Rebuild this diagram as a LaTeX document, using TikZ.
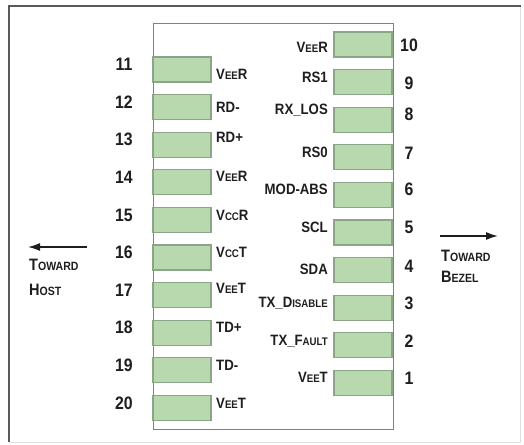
\documentclass[tikz,border=0pt]{standalone}
\usepackage{fontspec}
\setmainfont{Liberation Sans}
\newfontfamily\nb{Liberation Sans}[FakeStretch=0.88]
\usetikzlibrary{arrows.meta}
\definecolor{padfill}{RGB}{184,216,174}
\definecolor{paddraw}{RGB}{140,165,135}
\definecolor{txt}{RGB}{30,30,30}
\newcommand\lc[1]{{\fontsize{11}{11}\selectfont #1}}
\newcommand\lcb[1]{{\fontsize{12}{12}\selectfont #1}}
\tikzset{
  pad/.style={draw=paddraw, fill=padfill, line width=1.2pt, minimum width=58pt, minimum height=25pt, inner sep=0pt},
  pinnum/.style={font=\nb\bfseries\fontsize{18}{18}\selectfont, text=txt, inner sep=0pt},
  lbl/.style={font=\nb\bfseries\fontsize{15}{15}\selectfont, text=txt, inner sep=0pt},
  dirtxt/.style={font=\nb\bfseries\fontsize{16.5}{16.5}\selectfont, text=txt, inner sep=0pt, anchor=west},
  dirarrow/.style={line width=1.5pt, draw=txt, -{Latex[length=12pt,width=8pt]}}
}
\begin{document}
\begin{tikzpicture}[x=1pt,y=-1pt]
\useasboundingbox (0,0) rectangle (524,444);
\fill[white] (0,0) rectangle (524,444);
% outer frame
\draw[gray!25, line width=0.8pt] (520,6) -- (520,442) -- (9,442);
\draw[gray!70!black, line width=2.8pt] (9,442) -- (9,6) -- (521,6);
% body
\node[draw=gray, line width=0.9pt, minimum width=240pt, minimum height=406pt, inner sep=0pt, anchor=north west] (body) at (153,23) {};
% left pads 11..20
\foreach \i/\lab/\ly [count=\k from 0] in {11/V\lc{EE}R/74, 12/RD-/107, 13/RD+/137, 14/V\lc{EE}R/176, 15/V\lc{CC}R/215, 16/V\lc{CC}T/252, 17/V\lc{EE}T/288, 18/TD+/327, 19/TD-/365, 20/V\lc{EE}T/403}{
  \node[pad] (p\i) at (182, 69.5+37.6*\k) {};
  \node[pinnum] (n\i) at (124, 64.5+37.6*\k) {\i};
  \node[lbl, anchor=west] (l\i) at (216, \ly) {\lab};
}
% right pads 10..1
\foreach \i/\lab/\ly/\ny [count=\k from 0] in {10/V\lc{EE}R/47/45, 9/RS1/77/83, 8/RX\_LOS/110/114, 7/RS0/152/153, 6/MOD-ABS/189/189, 5/SCL/227/227, 4/SDA/269/266, 3/TX\_D\lc{ISABLE}/303/303, 2/TX\_F\lc{AULT}/341/341, 1/V\lc{EE}T/377/378}{
  \node[pad] (p\i) at (363, 44.5+37.6*\k) {};
  \node[pinnum] (n\i) at (409, \ny) {\i};
  \node[lbl, anchor=east] (l\i) at (328, \ly) {\lab};
}
% direction markers
\coordinate (hs) at (87,247);
\coordinate (he) at (28,247);
\draw[dirarrow] (hs) -- (he);
\node[dirtxt] (host1) at (29,265) {T\lcb{OWARD}};
\node[dirtxt] (host2) at (29,290) {H\lcb{OST}};
\coordinate (bs) at (440,236);
\coordinate (be) at (498,236);
\draw[dirarrow] (bs) -- (be);
\node[dirtxt] (bez1) at (441,256) {T\lcb{OWARD}};
\node[dirtxt] (bez2) at (441,277) {B\lcb{EZEL}};
\end{tikzpicture}
\end{document}
